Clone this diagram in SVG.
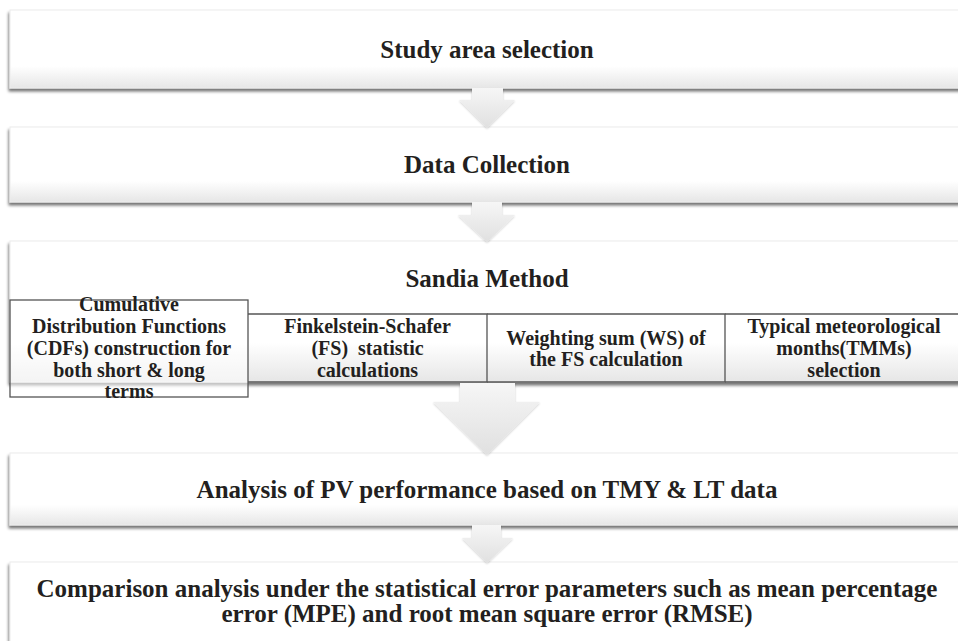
<svg xmlns="http://www.w3.org/2000/svg" width="958" height="641" viewBox="0 0 958 641">
  <defs>
    <linearGradient id="boxFill" x1="0" y1="0" x2="0" y2="1">
      <stop offset="0" stop-color="#ffffff"/>
      <stop offset="0.72" stop-color="#ffffff"/>
      <stop offset="1" stop-color="#e6e6e6"/>
    </linearGradient>
    <linearGradient id="arrowFill" x1="0" y1="0" x2="0" y2="1">
      <stop offset="0" stop-color="#f6f6f6"/>
      <stop offset="1" stop-color="#e0e0e0"/>
    </linearGradient>
    <filter id="boxShadow" x="-5%" y="-20%" width="110%" height="150%">
      <feGaussianBlur in="SourceAlpha" stdDeviation="1.6" result="b"/>
      <feOffset in="b" dx="-1" dy="2.5" result="o"/>
      <feComponentTransfer in="o" result="s">
        <feFuncA type="linear" slope="0.55"/>
      </feComponentTransfer>
      <feMerge>
        <feMergeNode in="s"/>
        <feMergeNode in="SourceGraphic"/>
      </feMerge>
    </filter>
    <filter id="arrowShadow" x="-20%" y="-20%" width="140%" height="140%">
      <feGaussianBlur in="SourceAlpha" stdDeviation="1.2" result="b"/>
      <feOffset in="b" dx="0" dy="1" result="o"/>
      <feComponentTransfer in="o" result="s">
        <feFuncA type="linear" slope="0.2"/>
      </feComponentTransfer>
      <feMerge>
        <feMergeNode in="s"/>
        <feMergeNode in="SourceGraphic"/>
      </feMerge>
    </filter>
  </defs>
  <style>
    .box { fill: url(#boxFill); stroke: #ececec; stroke-width: 1; filter: url(#boxShadow); }
    .arrow { fill: url(#arrowFill); stroke: none; filter: url(#arrowShadow); }
    .cell { fill: none; stroke: #555555; stroke-width: 1.3; }
    .cellOpen { fill: #ffffff; fill-opacity: 0.55; stroke: #555555; stroke-width: 1.3; }
    .title { font-weight: bold; font-size: 25px; fill: #231f20; text-anchor: middle; }
    .cellText { font-weight: bold; font-size: 20px; fill: #231f20; text-anchor: middle; }
  </style>

  <rect width="958" height="641" fill="#ffffff"/>

  <g font-family="'Liberation Serif', Tinos, 'DejaVu Serif', 'Noto Serif', serif">
  <!-- step boxes -->
  <g id="step-study-area">
    <rect class="box" x="10" y="10" width="970" height="78"/>
    <text class="title" x="487" y="58">Study area selection</text>
  </g>

  <g id="step-data-collection">
    <rect class="box" x="10" y="127" width="970" height="75"/>
    <text class="title" x="487" y="173">Data Collection</text>
  </g>

  <g id="step-sandia">
    <rect class="box" x="10" y="241" width="970" height="141"/>
    <text class="title" x="487" y="287">Sandia Method</text>
    <g id="sandia-cdf">
      <rect class="cellOpen" x="10" y="300" width="238" height="97"/>
      <text class="cellText" x="129" y="311">Cumulative</text>
      <text class="cellText" x="129" y="333">Distribution Functions</text>
      <text class="cellText" x="129" y="355">(CDFs) construction for</text>
      <text class="cellText" x="129" y="377">both short &amp; long</text>
      <text class="cellText" x="129" y="398">terms</text>
    </g>
    <g id="sandia-fs">
      <path class="cell" d="M248,314 H487 V382 H248"/>
      <text class="cellText" x="367.5" y="333">Finkelstein-Schafer</text>
      <text class="cellText" x="367.5" y="355" xml:space="preserve">(FS)  statistic</text>
      <text class="cellText" x="367.5" y="377">calculations</text>
    </g>
    <g id="sandia-ws">
      <path class="cell" d="M487,314 H725 V382 H487"/>
      <text class="cellText" x="606" y="345">Weighting sum (WS) of</text>
      <text class="cellText" x="606" y="366">the FS calculation</text>
    </g>
    <g id="sandia-tmm">
      <path class="cell" d="M725,314 H960 M725,382 H960"/>
      <text class="cellText" x="844" y="333">Typical meteorological</text>
      <text class="cellText" x="844" y="355">months(TMMs)</text>
      <text class="cellText" x="844" y="377">selection</text>
    </g>
  </g>

  <g id="step-pv-analysis">
    <rect class="box" x="10" y="453" width="970" height="72"/>
    <text class="title" x="487" y="498">Analysis of PV performance based on TMY &amp; LT data</text>
  </g>

  <g id="step-comparison">
    <rect class="box" x="10" y="562" width="970" height="110"/>
    <text class="title" x="487" y="597">Comparison analysis under the statistical error parameters such as mean percentage</text>
    <text class="title" x="487" y="622">error (MPE) and root mean square error (RMSE)</text>
  </g>
  </g>

  <!-- flow arrows -->
  <g id="connectors">
    <polygon class="arrow" points="472,88 503,88 503,100 515,100 487,128 459,100 472,100"/>
    <polygon class="arrow" points="472,202 502,202 502,215 515,215 487,242 458,215 472,215"/>
    <polygon class="arrow" points="460,383 515,383 515,402 540,402 487,455 433,402 460,402"/>
    <polygon class="arrow" points="472,525 501,525 501,538 513,538 487,563 462,538 472,538"/>
  </g>
</svg>
